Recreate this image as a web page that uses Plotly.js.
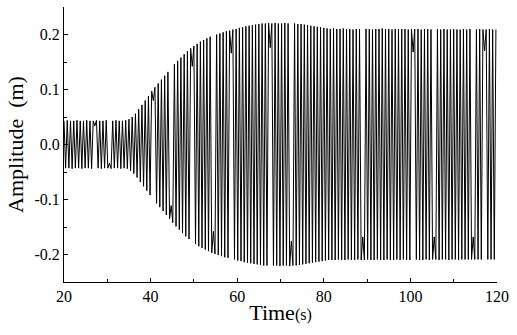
<!DOCTYPE html>
<html>
<head>
<meta charset="utf-8">
<script src="https://cdn.plot.ly/plotly-3.0.1.min.js"></script>
<style>
  html, body { margin: 0; padding: 0; background: #fff; }
  #chart { width: 517px; height: 335px; }
</style>
</head>
<body>
<div id="chart"></div>
<script>
// Sample times (s)
var time = [
  20, 20.375, 20.75, 21.125, 21.5, 21.875, 22.25, 22.625,
  23, 23.375, 23.75, 24.125, 24.5, 24.875, 25.25, 25.625,
  26, 26.375, 26.75, 27.125, 27.5, 27.875, 28.25, 28.625,
  29, 29.375, 29.75, 30.125, 30.5, 30.875, 31.25, 31.625,
  32, 32.375, 32.75, 33.125, 33.5, 33.875, 34.25, 34.625,
  35, 35.375, 35.75, 36.125, 36.5, 36.875, 37.25, 37.625,
  38, 38.375, 38.75, 39.125, 39.5, 39.875, 40.25, 40.625,
  41, 41.375, 41.75, 42.125, 42.5, 42.875, 43.25, 43.625,
  44, 44.375, 44.75, 45.125, 45.5, 45.875, 46.25, 46.625,
  47, 47.375, 47.75, 48.125, 48.5, 48.875, 49.25, 49.625,
  50, 50.375, 50.75, 51.125, 51.5, 51.875, 52.25, 52.625,
  53, 53.375, 53.75, 54.125, 54.5, 54.875, 55.25, 55.625,
  56, 56.375, 56.75, 57.125, 57.5, 57.875, 58.25, 58.625,
  59, 59.375, 59.75, 60.125, 60.5, 60.875, 61.25, 61.625,
  62, 62.375, 62.75, 63.125, 63.5, 63.875, 64.25, 64.625,
  65, 65.375, 65.75, 66.125, 66.5, 66.875, 67.25, 67.625,
  68, 68.375, 68.75, 69.125, 69.5, 69.875, 70.25, 70.625,
  71, 71.375, 71.75, 72.125, 72.5, 72.875, 73.25, 73.625,
  74, 74.375, 74.75, 75.125, 75.5, 75.875, 76.25, 76.625,
  77, 77.375, 77.75, 78.125, 78.5, 78.875, 79.25, 79.625,
  80, 80.375, 80.75, 81.125, 81.5, 81.875, 82.25, 82.625,
  83, 83.375, 83.75, 84.125, 84.5, 84.875, 85.25, 85.625,
  86, 86.375, 86.75, 87.125, 87.5, 87.875, 88.25, 88.625,
  89, 89.375, 89.75, 90.125, 90.5, 90.875, 91.25, 91.625,
  92, 92.375, 92.75, 93.125, 93.5, 93.875, 94.25, 94.625,
  95, 95.375, 95.75, 96.125, 96.5, 96.875, 97.25, 97.625,
  98, 98.375, 98.75, 99.125, 99.5, 99.875, 100.25, 100.625,
  101, 101.375, 101.75, 102.125, 102.5, 102.875, 103.25, 103.625,
  104, 104.375, 104.75, 105.125, 105.5, 105.875, 106.25, 106.625,
  107, 107.375, 107.75, 108.125, 108.5, 108.875, 109.25, 109.625,
  110, 110.375, 110.75, 111.125, 111.5, 111.875, 112.25, 112.625,
  113, 113.375, 113.75, 114.125, 114.5, 114.875, 115.25, 115.625,
  116, 116.375, 116.75, 117.125, 117.5, 117.875, 118.25, 118.625,
  119, 119.375, 119.75
];
// Amplitude (m)
var amplitude = [
  0.043, -0.043, 0.044, -0.043, 0.043, -0.044, 0.043, -0.043,
  0.044, -0.043, 0.043, -0.044, 0.043, -0.043, 0.044, -0.043,
  0.043, -0.044, 0.043, 0.034, 0.044, -0.043, 0.043, -0.044,
  0.043, -0.043, 0.044, -0.043, -0.034, -0.044, 0.043, -0.043,
  0.044, -0.043, 0.043, -0.044, 0.043, -0.043, 0.044, -0.044,
  0.046, -0.048, 0.050, -0.053, 0.056, -0.060, 0.064, -0.068,
  0.072, -0.076, 0.080, -0.084, 0.088, -0.092, 0.097, 0.080,
  0.104, -0.107, 0.111, -0.114, 0.118, -0.121, 0.125, -0.128,
  0.132, -0.135, -0.111, -0.142, 0.146, -0.149, 0.152, -0.155,
  0.158, -0.161, 0.164, -0.167, 0.170, -0.172, 0.175, 0.142,
  0.179, -0.181, 0.183, -0.185, 0.187, -0.188, 0.190, -0.191,
  0.193, -0.194, 0.196, -0.197, -0.158, -0.199, 0.200, -0.201,
  0.202, -0.203, 0.204, -0.205, 0.206, -0.206, 0.207, 0.166,
  0.209, -0.209, 0.210, -0.211, 0.212, -0.212, 0.213, -0.214,
  0.215, -0.215, 0.216, -0.216, 0.217, -0.217, 0.218, -0.218,
  0.219, -0.219, 0.220, -0.220, 0.220, -0.220, 0.221, 0.176,
  0.220, -0.220, 0.221, -0.220, 0.220, -0.221, 0.220, -0.220,
  0.221, -0.220, 0.220, -0.221, -0.176, -0.220, 0.220, -0.220,
  0.219, -0.219, 0.219, -0.218, 0.218, -0.217, 0.217, -0.216,
  0.216, -0.215, 0.215, -0.214, 0.214, -0.213, 0.213, -0.212,
  0.212, -0.211, 0.211, -0.210, 0.210, -0.210, 0.211, -0.210,
  0.210, -0.209, 0.210, -0.210, 0.211, -0.210, 0.210, -0.209,
  0.210, -0.210, 0.209, -0.210, 0.210, -0.209, 0.210, -0.210,
  -0.168, -0.210, 0.210, -0.209, 0.210, -0.210, 0.209, -0.210,
  0.210, -0.209, 0.210, -0.210, 0.211, -0.210, 0.210, -0.209,
  0.210, -0.210, 0.209, -0.210, 0.210, -0.209, 0.210, -0.210,
  0.210, -0.209, 0.210, -0.210, 0.209, -0.210, 0.210, 0.168,
  0.210, -0.209, 0.210, -0.210, 0.209, -0.210, 0.210, -0.209,
  0.210, -0.210, 0.209, -0.209, -0.168, -0.209, 0.210, -0.210,
  0.209, -0.209, 0.210, -0.209, 0.209, -0.210, 0.209, -0.209,
  0.210, -0.209, 0.209, -0.210, 0.209, -0.209, 0.210, -0.209,
  0.209, -0.209, 0.210, -0.209, -0.168, -0.209, 0.209, -0.209,
  0.210, -0.209, 0.209, 0.170, 0.209, -0.209, 0.210, -0.209,
  0.209, -0.209, 0.209
];
var xTicks = [20, 40, 60, 80, 100, 120];
var yTicks = [-0.2, -0.1, 0.0, 0.1, 0.2];
var yTickLabels = ['-0.2', '-0.1', '0.0', '0.1', '0.2'];

var trace = {
  x: time, y: amplitude, type: 'scatter', mode: 'lines',
  line: { color: '#000', width: 1 }, hoverinfo: 'skip'
};

var fam = '"Liberation Serif", "Times New Roman", serif';

var layout = {
  width: 517, height: 335,
  margin: { l: 64, r: 20, t: 7, b: 53 },
  paper_bgcolor: '#fff', plot_bgcolor: '#fff',
  showlegend: false,
  font: { family: fam, color: '#000', size: 16 },
  xaxis: {
    range: [20, 120], showgrid: false, zeroline: false,
    showline: true, linecolor: '#000', linewidth: 1, mirror: false,
    tickmode: 'array', tickvals: xTicks, ticktext: xTicks.map(String),
    ticks: 'inside', ticklen: 4, tickwidth: 1, tickcolor: '#000',
    minor: { dtick: 10, tick0: 20, ticks: 'inside', ticklen: 3, tickwidth: 1, tickcolor: '#000', showgrid: false },
    tickfont: { family: fam, size: 16, color: '#000' },
    title: { text: 'Time<span style="font-size:16px">(s)</span>', font: { family: fam, size: 22, color: '#000' }, standoff: 0 }
  },
  yaxis: {
    range: [-0.25, 0.25], showgrid: false, zeroline: false,
    showline: true, linecolor: '#000', linewidth: 1, mirror: false,
    tickmode: 'array', tickvals: yTicks, ticktext: yTickLabels,
    ticks: 'inside', ticklen: 4, tickwidth: 1, tickcolor: '#000',
    minor: { dtick: 0.05, tick0: 0, ticks: 'inside', ticklen: 3, tickwidth: 1, tickcolor: '#000', showgrid: false },
    tickfont: { family: fam, size: 16, color: '#000' },
    title: { text: 'Amplitude  (m)', font: { family: fam, size: 22, color: '#000' }, standoff: 4 }
  }
};

Plotly.newPlot('chart', [trace], layout, { displayModeBar: false, staticPlot: true });
</script>
</body>
</html>
